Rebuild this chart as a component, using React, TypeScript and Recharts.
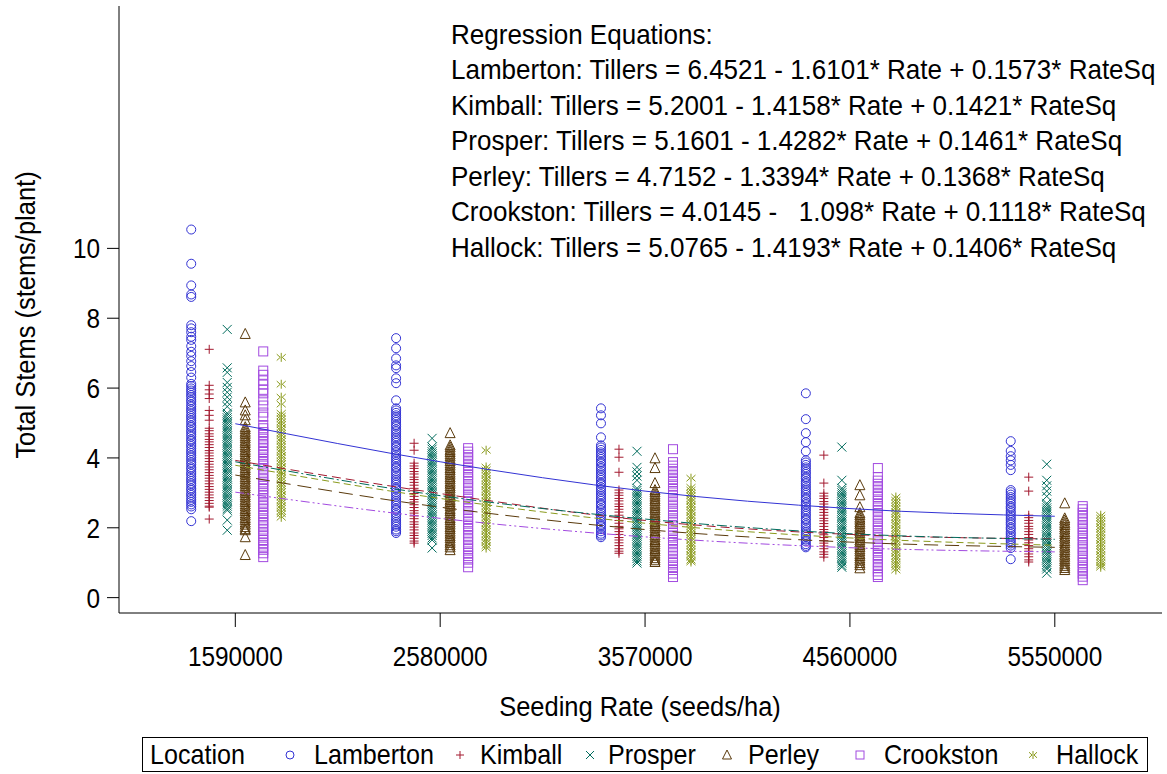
import React from 'react';
import { ComposedChart, Scatter, Line, XAxis, YAxis } from 'recharts';

const rates = [1590000, 2580000, 3570000, 4560000, 5550000];
const yTicks = [0, 2, 4, 6, 8, 10];
const locations = ['Lamberton', 'Kimball', 'Prosper', 'Perley', 'Crookston', 'Hallock'];
const locationColors = ['#3333d4', '#a3192f', '#006b5c', '#5a3a0c', '#a24ae0', '#8a9a1c'];
const locationOffsets = [-213000, -126000, -39000, 48000, 135000, 222000];
const markerKinds = ['circle', 'plus', 'x', 'triangle', 'square', 'star'];
const lineDashes = ['', '9 5', '10 3 2 3', '14 7', '9 3 2 3 2 3', '7 4'];

// observed total stems per plant, one list per seeding rate
const lambertonObs = [
  [10.54, 9.56, 8.94, 8.68, 8.61, 7.8, 7.71, 7.6, 7.47, 7.38, 7.2, 7.04, 6.92, 6.77, 6.63, 6.46, 6.3, 6.12, 6.06, 5.99, 5.93, 5.87, 5.8, 5.74, 5.66, 5.61, 5.53, 5.47, 5.4, 5.34, 5.27, 5.2, 5.14, 5.07, 5.01, 4.93, 4.88, 4.8, 4.74, 4.67, 4.61, 4.53, 4.48, 4.4, 4.34, 4.27, 4.2, 4.14, 4.07, 4.01, 3.94, 3.87, 3.81, 3.73, 3.68, 3.6, 3.54, 3.47, 3.4, 3.34, 3.27, 3.21, 3.13, 3.08, 3.0, 2.94, 2.87, 2.8, 2.74, 2.67, 2.61, 2.53, 2.19],
  [7.43, 7.14, 6.85, 6.65, 6.57, 6.28, 6.14, 5.65, 5.42, 5.36, 5.29, 5.22, 5.16, 5.09, 5.03, 4.95, 4.9, 4.82, 4.76, 4.69, 4.62, 4.56, 4.49, 4.43, 4.35, 4.3, 4.22, 4.16, 4.09, 4.02, 3.96, 3.89, 3.83, 3.75, 3.7, 3.62, 3.56, 3.49, 3.42, 3.36, 3.29, 3.23, 3.15, 3.1, 3.02, 2.96, 2.89, 2.82, 2.76, 2.69, 2.63, 2.55, 2.5, 2.42, 2.36, 2.29, 2.22, 2.16, 2.09, 2.03, 1.95, 1.9, 1.85],
  [5.42, 5.22, 4.99, 4.59, 4.36, 4.3, 4.23, 4.16, 4.1, 4.03, 3.97, 3.89, 3.84, 3.76, 3.7, 3.63, 3.56, 3.5, 3.43, 3.37, 3.29, 3.24, 3.16, 3.1, 3.03, 2.96, 2.9, 2.83, 2.77, 2.69, 2.64, 2.56, 2.5, 2.43, 2.36, 2.3, 2.23, 2.17, 2.09, 2.04, 1.96, 1.9, 1.83, 1.78, 1.73],
  [5.85, 5.11, 4.71, 4.45, 4.19, 3.93, 3.87, 3.8, 3.73, 3.67, 3.6, 3.54, 3.46, 3.41, 3.33, 3.27, 3.2, 3.13, 3.07, 3.0, 2.94, 2.86, 2.81, 2.73, 2.67, 2.6, 2.53, 2.47, 2.4, 2.34, 2.26, 2.21, 2.13, 2.07, 2.0, 1.93, 1.87, 1.8, 1.74, 1.66, 1.61, 1.53, 1.48, 1.44],
  [4.48, 4.2, 4.05, 3.93, 3.8, 3.65, 3.08, 3.02, 2.95, 2.88, 2.82, 2.75, 2.69, 2.61, 2.56, 2.48, 2.42, 2.35, 2.28, 2.22, 2.15, 2.09, 2.01, 1.96, 1.88, 1.82, 1.75, 1.68, 1.62, 1.55, 1.49, 1.42, 1.1],
];
const kimballObs = [
  [7.11, 6.08, 5.95, 5.83, 5.7, 5.36, 5.22, 5.08, 4.85, 4.78, 4.69, 4.62, 4.53, 4.46, 4.38, 4.3, 4.21, 4.14, 4.06, 3.98, 3.9, 3.82, 3.74, 3.66, 3.58, 3.5, 3.42, 3.34, 3.26, 3.18, 3.1, 3.02, 2.94, 2.86, 2.78, 2.7, 2.62, 2.59, 2.25],
  [4.42, 4.22, 3.85, 3.77, 3.7, 3.61, 3.54, 3.45, 3.38, 3.3, 3.22, 3.13, 3.06, 2.98, 2.9, 2.81, 2.74, 2.66, 2.58, 2.49, 2.42, 2.34, 2.26, 2.17, 2.1, 2.02, 1.94, 1.85, 1.78, 1.7, 1.62, 1.56],
  [4.25, 4.02, 3.59, 3.08, 3.0, 2.93, 2.84, 2.77, 2.68, 2.61, 2.53, 2.45, 2.36, 2.29, 2.21, 2.13, 2.04, 1.97, 1.89, 1.81, 1.72, 1.65, 1.57, 1.49, 1.4, 1.33, 1.27],
  [4.08, 3.28, 2.99, 2.91, 2.84, 2.75, 2.68, 2.59, 2.52, 2.44, 2.36, 2.27, 2.2, 2.12, 2.04, 1.95, 1.88, 1.8, 1.72, 1.63, 1.56, 1.48, 1.4, 1.31, 1.24, 1.16],
  [3.45, 3.05, 2.36, 2.29, 2.21, 2.13, 2.04, 1.97, 1.89, 1.81, 1.72, 1.65, 1.57, 1.49, 1.4, 1.33, 1.25, 1.17, 1.08, 1.02],
];
const prosperObs = [
  [7.68, 6.58, 6.45, 6.16, 6.02, 5.88, 5.74, 5.6, 5.47, 5.28, 5.22, 5.15, 5.09, 5.02, 4.96, 4.89, 4.83, 4.76, 4.7, 4.63, 4.57, 4.5, 4.44, 4.37, 4.31, 4.24, 4.18, 4.11, 4.05, 3.98, 3.92, 3.85, 3.79, 3.72, 3.66, 3.59, 3.53, 3.46, 3.4, 3.33, 3.27, 3.2, 3.14, 3.07, 3.01, 2.94, 2.88, 2.81, 2.75, 2.68, 2.62, 2.55, 2.5, 2.22, 1.93],
  [4.56, 4.31, 4.25, 4.18, 4.12, 4.05, 3.99, 3.92, 3.86, 3.79, 3.73, 3.66, 3.6, 3.53, 3.47, 3.4, 3.34, 3.27, 3.21, 3.14, 3.08, 3.01, 2.95, 2.88, 2.82, 2.75, 2.69, 2.62, 2.56, 2.49, 2.43, 2.36, 2.3, 2.23, 2.17, 2.1, 2.04, 1.97, 1.91, 1.84, 1.78, 1.71, 1.65, 1.42],
  [4.19, 3.73, 3.6, 3.48, 3.36, 3.13, 3.07, 3.0, 2.94, 2.87, 2.81, 2.74, 2.68, 2.61, 2.55, 2.48, 2.42, 2.35, 2.29, 2.22, 2.16, 2.09, 2.03, 1.96, 1.9, 1.83, 1.77, 1.7, 1.64, 1.57, 1.51, 1.44, 1.38, 1.31, 1.25, 1.18, 1.12, 1.05, 0.99],
  [4.31, 3.36, 3.13, 3.07, 3.0, 2.94, 2.87, 2.81, 2.74, 2.68, 2.61, 2.55, 2.48, 2.42, 2.35, 2.29, 2.22, 2.16, 2.09, 2.03, 1.96, 1.9, 1.83, 1.77, 1.7, 1.64, 1.57, 1.51, 1.44, 1.38, 1.31, 1.25, 1.18, 1.12, 1.05, 0.99, 0.92, 0.87],
  [3.82, 3.36, 3.2, 3.05, 2.9, 2.7, 2.64, 2.57, 2.51, 2.44, 2.38, 2.31, 2.25, 2.18, 2.12, 2.05, 1.99, 1.92, 1.86, 1.79, 1.73, 1.66, 1.6, 1.53, 1.47, 1.4, 1.34, 1.27, 1.21, 1.14, 1.08, 1.01, 0.95, 0.88, 0.82, 0.7],
];
const perleyObs = [
  [7.55, 5.59, 5.36, 5.22, 5.08, 4.88, 4.82, 4.75, 4.69, 4.62, 4.56, 4.49, 4.43, 4.36, 4.3, 4.23, 4.17, 4.1, 4.04, 3.97, 3.91, 3.84, 3.78, 3.71, 3.65, 3.58, 3.52, 3.45, 3.39, 3.32, 3.26, 3.19, 3.13, 3.06, 3.0, 2.93, 2.87, 2.8, 2.74, 2.67, 2.61, 2.54, 2.48, 2.41, 2.35, 2.28, 2.22, 2.15, 2.09, 2.02, 1.96, 1.93, 1.73, 1.22],
  [4.71, 4.36, 4.3, 4.23, 4.17, 4.1, 4.04, 3.97, 3.91, 3.84, 3.78, 3.71, 3.65, 3.58, 3.52, 3.45, 3.39, 3.32, 3.26, 3.19, 3.13, 3.06, 3.0, 2.93, 2.87, 2.8, 2.74, 2.67, 2.61, 2.54, 2.48, 2.41, 2.35, 2.28, 2.22, 2.15, 2.09, 2.02, 1.96, 1.89, 1.83, 1.76, 1.7, 1.63, 1.57, 1.5, 1.44, 1.36],
  [3.99, 3.71, 3.28, 3.08, 3.02, 2.95, 2.89, 2.82, 2.76, 2.69, 2.63, 2.56, 2.5, 2.43, 2.37, 2.3, 2.24, 2.17, 2.11, 2.04, 1.98, 1.91, 1.85, 1.78, 1.72, 1.65, 1.59, 1.52, 1.46, 1.39, 1.33, 1.26, 1.2, 1.13, 1.07, 1.02],
  [3.22, 2.93, 2.59, 2.42, 2.36, 2.29, 2.23, 2.16, 2.1, 2.03, 1.97, 1.9, 1.84, 1.77, 1.71, 1.64, 1.58, 1.51, 1.45, 1.38, 1.32, 1.25, 1.19, 1.12, 1.06, 0.99, 0.93, 0.84],
  [2.7, 2.27, 2.21, 2.14, 2.08, 2.01, 1.95, 1.88, 1.82, 1.75, 1.69, 1.62, 1.56, 1.49, 1.43, 1.36, 1.3, 1.23, 1.17, 1.1, 1.04, 0.97, 0.91, 0.85, 0.79],
];
const crookstonObs = [
  [7.05, 6.5, 6.38, 6.22, 6.1, 5.95, 5.85, 5.65, 5.5, 5.3, 5.18, 4.94, 4.85, 4.74, 4.66, 4.55, 4.46, 4.36, 4.27, 4.17, 4.08, 3.97, 3.88, 3.78, 3.69, 3.58, 3.5, 3.39, 3.3, 3.2, 3.11, 3.0, 2.92, 2.81, 2.72, 2.62, 2.53, 2.42, 2.34, 2.23, 2.14, 2.04, 1.95, 1.84, 1.76, 1.65, 1.56, 1.46, 1.37, 1.27, 1.16],
  [4.28, 4.18, 4.09, 3.99, 3.9, 3.79, 3.71, 3.6, 3.51, 3.41, 3.32, 3.21, 3.13, 3.02, 2.93, 2.83, 2.74, 2.63, 2.55, 2.44, 2.35, 2.25, 2.16, 2.05, 1.97, 1.86, 1.77, 1.67, 1.58, 1.47, 1.39, 1.28, 1.19, 1.09, 1.0, 0.87],
  [4.25, 3.88, 3.78, 3.69, 3.59, 3.5, 3.39, 3.31, 3.2, 3.11, 3.01, 2.92, 2.81, 2.73, 2.62, 2.53, 2.43, 2.34, 2.23, 2.15, 2.04, 1.95, 1.85, 1.76, 1.65, 1.57, 1.46, 1.37, 1.27, 1.18, 1.07, 0.99, 0.88, 0.79, 0.69, 0.59],
  [3.71, 3.45, 3.35, 3.26, 3.16, 3.07, 2.96, 2.88, 2.77, 2.68, 2.58, 2.49, 2.38, 2.3, 2.19, 2.1, 2.0, 1.91, 1.8, 1.72, 1.61, 1.52, 1.42, 1.33, 1.22, 1.14, 1.03, 0.94, 0.84, 0.75, 0.65, 0.59],
  [2.62, 2.53, 2.43, 2.34, 2.24, 2.15, 2.04, 1.96, 1.85, 1.76, 1.66, 1.57, 1.46, 1.38, 1.27, 1.18, 1.08, 0.99, 0.88, 0.8, 0.69, 0.6, 0.5],
];
const hallockObs = [
  [6.88, 6.11, 5.74, 5.54, 5.28, 5.2, 5.12, 5.03, 4.96, 4.87, 4.8, 4.71, 4.64, 4.55, 4.48, 4.39, 4.32, 4.23, 4.16, 4.07, 4.0, 3.91, 3.84, 3.75, 3.68, 3.59, 3.52, 3.43, 3.36, 3.27, 3.2, 3.11, 3.04, 2.95, 2.88, 2.79, 2.72, 2.63, 2.56, 2.47, 2.4, 2.3],
  [4.22, 3.74, 3.66, 3.57, 3.5, 3.41, 3.34, 3.25, 3.18, 3.09, 3.02, 2.93, 2.86, 2.77, 2.7, 2.61, 2.54, 2.45, 2.38, 2.29, 2.22, 2.13, 2.06, 1.97, 1.9, 1.81, 1.74, 1.65, 1.58, 1.49, 1.42],
  [3.42, 3.16, 3.08, 2.99, 2.92, 2.83, 2.76, 2.67, 2.6, 2.51, 2.44, 2.35, 2.28, 2.19, 2.12, 2.03, 1.96, 1.87, 1.8, 1.71, 1.64, 1.55, 1.48, 1.39, 1.32, 1.23, 1.16, 1.07, 1.02],
  [2.88, 2.79, 2.71, 2.62, 2.55, 2.46, 2.39, 2.3, 2.23, 2.14, 2.07, 1.98, 1.91, 1.82, 1.75, 1.66, 1.59, 1.5, 1.43, 1.34, 1.27, 1.18, 1.11, 1.02, 0.95, 0.88, 0.79],
  [2.36, 2.28, 2.19, 2.12, 2.03, 1.96, 1.87, 1.8, 1.71, 1.64, 1.55, 1.48, 1.39, 1.32, 1.23, 1.16, 1.07, 1.0, 0.93, 0.87],
];

// fitted curve values at each seeding rate
const lambertonFit = [4.98, 3.89, 3.05, 2.55, 2.33];
const kimballFit = [3.93, 2.98, 2.21, 1.81, 1.68];
const prosperFit = [3.89, 2.92, 2.25, 1.83, 1.67];
const perleyFit = [3.51, 2.59, 1.95, 1.59, 1.44];
const crookstonFit = [3.02, 2.27, 1.74, 1.43, 1.31];
const hallockFit = [3.79, 2.84, 2.13, 1.71, 1.5];

const equationLines = [
  'Regression Equations:',
  'Lamberton: Tillers = 6.4521 - 1.6101* Rate + 0.1573* RateSq',
  'Kimball: Tillers = 5.2001 - 1.4158* Rate + 0.1421* RateSq',
  'Prosper: Tillers = 5.1601 - 1.4282* Rate + 0.1461* RateSq',
  'Perley: Tillers = 4.7152 - 1.3394* Rate + 0.1368* RateSq',
  'Crookston: Tillers = 4.0145 -   1.098* Rate + 0.1118* RateSq',
  'Hallock: Tillers = 5.0765 - 1.4193* Rate + 0.1406* RateSq',
];

const obsByLocation = [lambertonObs, kimballObs, prosperObs, perleyObs, crookstonObs, hallockObs];
const fitByLocation = [lambertonFit, kimballFit, prosperFit, perleyFit, crookstonFit, hallockFit];

const FONT = '"Liberation Sans", Arial, Helvetica, sans-serif';

function Marker({ kind, color, cx, cy, s, w }: { kind: string; color: string; cx: number; cy: number; s: number; w: number }) {
  const common = { stroke: color, fill: 'none', strokeWidth: w };
  switch (kind) {
    case 'circle':
      return <circle cx={cx} cy={cy} r={s} {...common} />;
    case 'plus':
      return <path d={`M${cx - s},${cy}H${cx + s}M${cx},${cy - s}V${cy + s}`} {...common} />;
    case 'x':
      return <path d={`M${cx - s},${cy - s}L${cx + s},${cy + s}M${cx - s},${cy + s}L${cx + s},${cy - s}`} {...common} />;
    case 'triangle':
      return <path d={`M${cx},${cy - s - 1}L${cx + s + 0.5},${cy + s}L${cx - s - 0.5},${cy + s}Z`} {...common} />;
    case 'square':
      return <rect x={cx - s} y={cy - s} width={2 * s} height={2 * s} {...common} />;
    default:
      return (
        <path
          d={`M${cx},${cy - s}V${cy + s}M${cx - s},${cy - s * 0.7}L${cx - 1},${cy}L${cx - s},${cy + s * 0.7}M${cx + s},${cy - s * 0.7}L${cx + 1},${cy}L${cx + s},${cy + s * 0.7}`}
          {...common}
        />
      );
  }
}

const makeShape = (kind: string, color: string) => (props: any) => {
  const { cx, cy } = props;
  if (!Number.isFinite(cx) || !Number.isFinite(cy)) return <g />;
  return <Marker kind={kind} color={color} cx={cx} cy={cy} s={4.5} w={1} />;
};

const scatterData = obsByLocation.map((obs, li) =>
  obs.flatMap((vals, ri) => vals.map((v) => ({ x: rates[ri] + locationOffsets[li], y: v })))
);
const fitData = fitByLocation.map((fit) => fit.map((v, ri) => ({ x: rates[ri], y: v })));

const legendSymbolX = [290, 460, 590, 727, 860, 1033];
const legendLabelX = [314, 480, 608, 748, 884, 1056];

function NText({ x, y, size, sx, anchor, rotate, children }: any) {
  const t = `translate(${x},${y})${rotate ? ` rotate(${rotate})` : ''} scale(${sx},1)`;
  return (
    <text transform={t} fontSize={size} fill="#000" textAnchor={anchor || 'start'} style={{ whiteSpace: 'pre' }} fontFamily={FONT}>
      {children}
    </text>
  );
}

const XTick = (props: any) => {
  const { x, y, payload } = props;
  return <NText x={x} y={y + 20} size={28} sx={0.87} anchor="middle">{String(payload.value)}</NText>;
};
const YTick = (props: any) => {
  const { x, y, payload } = props;
  return <NText x={x} y={y + 10} size={28} sx={0.87} anchor="end">{String(payload.value)}</NText>;
};

export default function App() {
  return (
    <div style={{ position: 'absolute', left: 0, top: 0, width: 1167, height: 774, background: '#fff', fontFamily: FONT }}>
      <ComposedChart width={1167} height={774} margin={{ top: 6, right: 5, bottom: 101, left: 0 }}>
        <XAxis
          type="number"
          dataKey="x"
          domain={[1028000, 6068000]}
          ticks={rates}
          allowDataOverflow
          tickSize={14}
          tickMargin={19}
          height={60}
          stroke="#000"
          tick={<XTick />}
          tickLine={{ stroke: '#000' }}
          axisLine={{ stroke: '#000' }}
        />
        <YAxis
          type="number"
          dataKey="y"
          domain={[-0.44, 16.94]}
          ticks={yTicks}
          allowDataOverflow
          width={119}
          tickSize={12}
          tickMargin={7}
          stroke="#000"
          tick={<YTick />}
          tickLine={{ stroke: '#000' }}
          axisLine={{ stroke: '#000' }}
        />
        {locations.map((loc, li) => (
          <Scatter
            key={'s' + loc}
            name={loc}
            data={scatterData[li]}
            shape={makeShape(markerKinds[li], locationColors[li])}
            isAnimationActive={false}
          />
        ))}
        {locations.map((loc, li) => (
          <Line
            key={'l' + loc}
            data={fitData[li]}
            dataKey="y"
            type="monotone"
            stroke={locationColors[li]}
            strokeWidth={1}
            strokeDasharray={lineDashes[li] || undefined}
            dot={false}
            activeDot={false}
            isAnimationActive={false}
            zIndex={650}
          />
        ))}
      </ComposedChart>
      <svg
        width={1167}
        height={774}
        style={{ position: 'absolute', left: 0, top: 0, pointerEvents: 'none' }}
      >
        {equationLines.map((t, i) => (
          <NText key={i} x={451} y={43.5 + i * 35.5} size={28} sx={0.93}>
            {t}
          </NText>
        ))}
        <NText x={640} y={716} size={28} sx={0.91} anchor="middle">
          Seeding Rate (seeds/ha)
        </NText>
        <NText x={35} y={315} size={28} sx={0.91} anchor="middle" rotate={-90}>
          Total Stems (stems/plant)
        </NText>
        <rect x={142.5} y={737.5} width={1005} height={34} fill="none" stroke="#000" strokeWidth={1} />
        <NText x={150} y={764} size={27} sx={0.93}>
          Location
        </NText>
        {locations.map((loc, li) => (
          <g key={'lg' + loc}>
            <Marker kind={markerKinds[li]} color={locationColors[li]} cx={legendSymbolX[li]} cy={755} s={4} w={1} />
            <NText x={legendLabelX[li]} y={764} size={27} sx={0.93}>
              {loc}
            </NText>
          </g>
        ))}
      </svg>
    </div>
  );
}
